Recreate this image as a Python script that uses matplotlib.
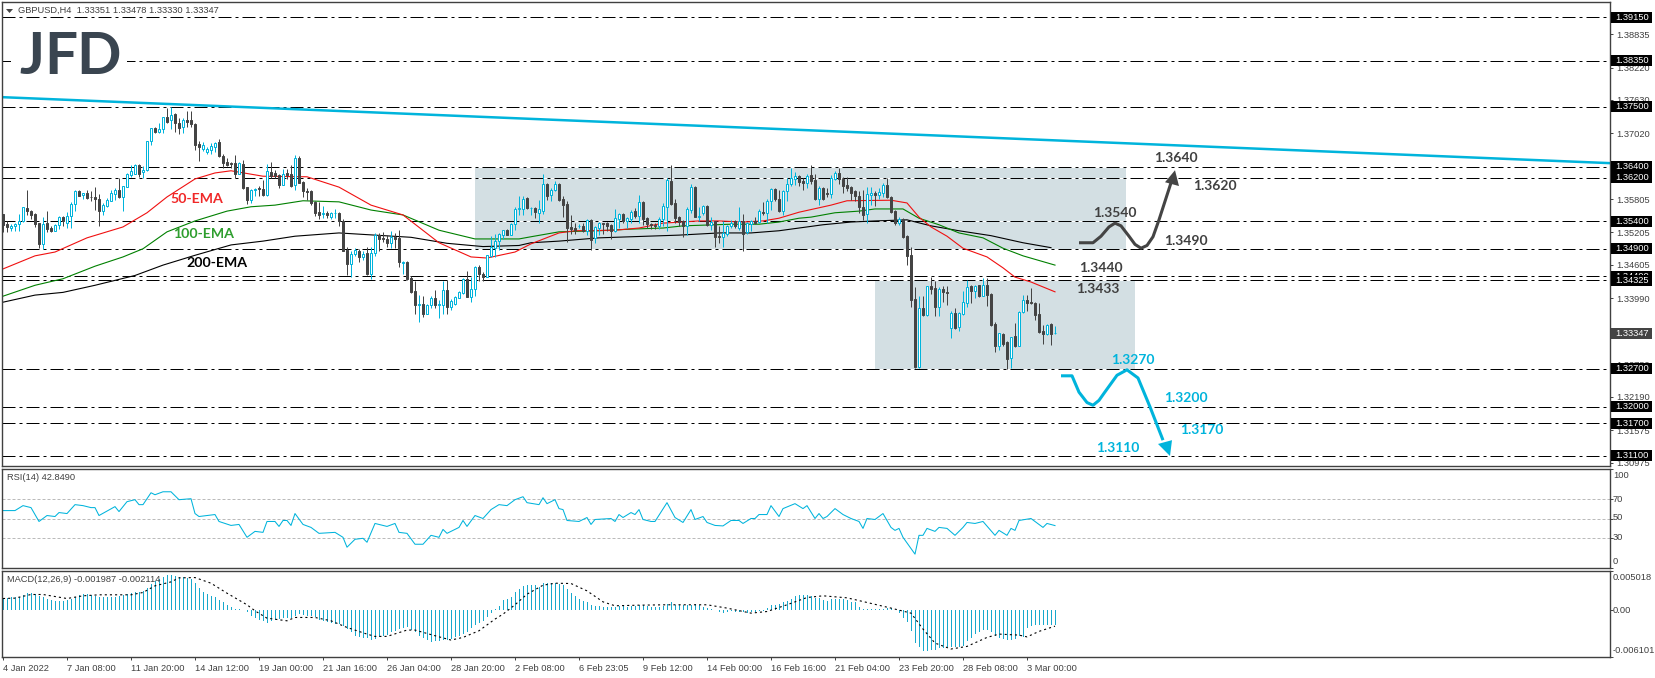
import numpy as np
import matplotlib
matplotlib.use("Agg")
import matplotlib.pyplot as plt
from matplotlib.patches import Rectangle, Polygon

plt.rcParams['font.family'] = ['Liberation Sans', 'DejaVu Sans']
plt.rcParams['lines.scale_dashes'] = False

# ---------- DATA (prices in units of 0.0001) ----------
opens = [13554,13535,13528,13531,13535,13540,13564,13560,13554,13537,
13498,13537,13528,13523,13533,13548,13538,13550,13572,13596,
13588,13592,13585,13584,13582,13560,13569,13578,13591,13598,
13584,13604,13625,13627,13644,13630,13635,13687,13711,13704,
13709,13732,13726,13737,13721,13713,13726,13726,13719,13682,
13673,13667,13671,13676,13685,13661,13649,13647,13647,13627,
13646,13603,13580,13598,13602,13599,13589,
13631,13629,13625,13607,13629,13627,13606,13656,13612,13596,13596,13576,13557,
13553,13555,13549,13555,13556,13541,13488,13462,13480,13486,
13475,13483,13444,13483,13516,13510,13508,13501,13511,13509,
13464,13466,13436,13412,13386,13388,13371,13386,13399,13386,
13387,13414,13384,13389,13400,13408,13434,13402,13417,13457,
13443,13439,13477,13492,13504,13516,13525,13516,13535,13563,
13563,13583,
13564,13564,13556,13560,13609,13588,13597,13609,
13581,13572,13530,13528,13531,13532,13523,13542,13509,13528,
13538,13537,13534,13522,13545,13553,13541,13544,13560,13550,
13575,13546,13536,13534,13531,13545,13567,13614,13574,13548,
13540,13532,13561,13603,13548,13555,13569,13534,13540,13514,
13511,13517,13531,13540,13528,13540,13520,13536,13541,13539,
13557,13556,13578,13599,13581,13560,13595,13608,13618,13624,
13614,13611,13625,13616,13581,13601,13593,13591,13618,13629,
13618,13607,13603,13595,13587,13566,13553,13588,13593,13588,
13593,13607,13585,13559,13537,13545,13514,13478,13397,13274,
13381,13369,13422,13418,13384,13416,13411,13344,13372,13346,
13371,13391,13421,13412,13423,13404,13423,13407,13352,13311,
13334,13319,13289,13330,13312,13374,13396,13392,13391,13370,
13339,13333,13352,13335]

closes = [13534,13529,13532,13536,13541,13566,13559,13552,13536,13498,
13536,13526,13523,13534,13548,13540,13550,13572,13595,13587,
13592,13583,13584,13582,13559,13570,13580,13592,13598,13584,
13605,13627,13633,13644,13627,13635,13687,13711,13705,13710,
13731,13723,13735,13720,13711,13726,13723,13719,13680,13676,
13680,13673,13679,13684,13661,13647,13644,13645,13627,13648,
13602,13580,13598,13600,13599,13589,13632,
13623,13623,13607,13627,13626,13605,13656,13611,13595,13594,13574,13555,13552,
13555,13552,13555,13556,13541,13486,13462,13481,13488,13475,
13481,13444,13483,13516,13508,13507,13501,13511,13508,13466,
13466,13434,13411,13386,13388,13370,13386,13399,13386,13389,
13414,13384,13394,13401,13410,13434,13402,13417,13456,13443,
13439,13478,13494,13504,13517,13524,13516,13535,13562,13564,
13582,13564,
13565,13557,13563,13609,13587,13598,13609,13580,
13571,13528,13527,13525,13532,13523,13542,13506,13529,13537,
13536,13532,13522,13546,13553,13540,13546,13558,13550,13575,
13544,13536,13533,13532,13545,13569,13616,13572,13546,13539,
13532,13563,13603,13549,13550,13569,13534,13539,13511,13512,
13518,13532,13537,13532,13540,13517,13537,13541,13538,13559,
13556,13578,13599,13581,13560,13595,13609,13619,13624,13613,
13610,13624,13614,13581,13601,13581,13590,13619,13629,13618,
13605,13602,13593,13586,13566,13552,13590,13592,13588,13594,
13607,13584,13558,13537,13545,13511,13476,13396,13274,13381,
13369,13421,13416,13384,13416,13410,13408,13372,13344,13372,
13392,13420,13412,13422,13404,13423,13405,13350,13311,13335,
13316,13288,13328,13311,13374,13396,13391,13390,13369,13338,
13333,13350,13334,13335]

highs = [13554,13540,13536,13538,13554,13567,13598,13561,13555,13538,
13548,13559,13532,13536,13550,13550,13558,13575,13597,13598,
13593,13598,13595,13603,13590,13573,13583,13597,13601,13619,
13605,13629,13644,13646,13646,13642,13688,13712,13713,13721,
13732,13748,13750,13739,13729,13729,13742,13742,13720,13687,
13685,13676,13684,13686,13691,13664,13656,13650,13662,13650,
13653,13604,13599,13601,13605,13616,13646,
13649,13634,13627,13636,13636,13643,13662,13660,13615,13601,13598,13578,13576,
13568,13559,13557,13563,13558,13544,13494,13485,13491,13489,
13485,13494,13494,13518,13518,13521,13515,13522,13518,13524,
13467,13468,13440,13431,13406,13403,13389,13403,13414,13396,
13431,13433,13397,13403,13413,13436,13450,13439,13458,13460,
13447,13479,13513,13517,13519,13525,13527,13537,13566,13587,
13587,13584,
13567,13566,13580,13627,13610,13601,13615,13611,
13587,13577,13552,13537,13536,13537,13544,13544,13532,13539,
13538,13539,13536,13563,13555,13556,13549,13561,13564,13589,
13577,13548,13538,13538,13548,13574,13619,13644,13581,13550,
13542,13567,13609,13605,13567,13570,13570,13548,13541,13531,
13540,13534,13542,13542,13566,13554,13539,13543,13549,13563,
13575,13581,13601,13601,13598,13598,13619,13638,13630,13625,
13619,13627,13644,13627,13605,13603,13601,13625,13633,13638,
13621,13622,13605,13598,13595,13597,13603,13604,13595,13601,
13610,13619,13587,13561,13548,13546,13515,13493,13419,13404,
13404,13422,13439,13430,13419,13422,13421,13375,13381,13374,
13412,13432,13423,13424,13424,13436,13436,13408,13355,13336,
13336,13320,13329,13353,13375,13405,13405,13418,13393,13390,
13350,13352,13353,13348]

lows = [13520,13521,13523,13523,13523,13539,13552,13545,13530,13491,
13489,13520,13521,13522,13526,13532,13528,13528,13560,13586,
13582,13581,13577,13561,13531,13552,13567,13577,13580,13583,
13560,13603,13621,13627,13621,13619,13633,13680,13702,13703,
13703,13721,13709,13705,13700,13702,13713,13713,13671,13651,
13670,13664,13664,13668,13659,13638,13641,13638,13619,13627,
13599,13572,13573,13586,13586,13586,13587,
13619,13619,13601,13607,13618,13604,13598,13610,13585,13579,13570,13550,13544,
13546,13546,13544,13546,13532,13485,13442,13439,13477,13466,
13469,13442,13434,13477,13485,13503,13494,13491,13491,13457,
13444,13433,13408,13371,13356,13365,13370,13382,13381,13363,
13370,13371,13378,13387,13399,13407,13401,13393,13404,13430,
13431,13439,13475,13474,13488,13507,13515,13515,13524,13552,
13552,13562,
13552,13546,13537,13554,13580,13577,13595,13577,
13549,13503,13517,13517,13528,13520,13515,13488,13501,13515,
13517,13523,13507,13520,13528,13538,13528,13538,13546,13537,
13534,13528,13526,13526,13526,13532,13522,13570,13538,13531,
13511,13515,13555,13548,13540,13552,13532,13525,13493,13500,
13494,13514,13528,13528,13525,13485,13517,13522,13536,13537,
13552,13538,13561,13578,13558,13552,13577,13605,13607,13605,
13598,13601,13609,13580,13570,13580,13585,13583,13616,13608,
13593,13595,13580,13577,13555,13542,13537,13570,13569,13581,
13585,13583,13556,13534,13534,13509,13460,13384,13271,13271,
13366,13367,13407,13366,13366,13393,13387,13327,13342,13340,
13369,13384,13391,13399,13402,13404,13385,13349,13301,13305,
13312,13270,13271,13309,13311,13373,13375,13389,13359,13336,
13316,13331,13314,13333]

ema50_bar = [0,8,13,21,30,36,41,48,53,57,65,76,84,92,100,109,117,121,128,132,139,143,153,159,165,174,179,185,190,194,199,207,211,222,226,229,232,236,240,246,250,253,257,263]
ema50_val = [13453,13477,13484,13510,13530,13556,13585,13618,13629,13633,13623,13622,13603,13570,13552,13501,13475,13473,13484,13499,13519,13523,13524,13528,13537,13541,13541,13539,13541,13546,13557,13570,13578,13579,13574,13548,13530,13513,13491,13475,13455,13438,13429,13411]

ema100_bar = [0,8,15,23,30,35,41,48,56,62,68,75,84,92,100,109,118,129,132,139,149,157,165,170,182,189,194,199,202,208,214,218,225,229,234,239,245,250,255,263]
ema100_val = [13403,13423,13435,13458,13475,13490,13521,13541,13559,13567,13570,13578,13576,13561,13552,13524,13508,13508,13512,13521,13523,13526,13528,13532,13535,13535,13539,13546,13548,13556,13559,13563,13563,13546,13534,13519,13510,13491,13477,13460]

ema200_bar = [0,8,15,23,33,40,48,57,65,73,84,93,102,111,120,129,132,139,149,157,169,179,187,194,199,205,212,218,226,232,239,247,255,262]
ema200_val = [13392,13405,13410,13423,13441,13460,13478,13497,13504,13513,13519,13515,13511,13500,13494,13496,13501,13504,13510,13512,13515,13519,13519,13523,13528,13534,13539,13541,13543,13532,13523,13514,13501,13492]

level_vals = [13915,13835,13750,13640,13620,13540,13490,13440,13432.5,13270,13200,13170,13110]
level_text = ['1.39150','1.38350','1.37500','1.36400','1.36200','1.35400','1.34900','1.34400','1.34325','1.32700','1.32000','1.31700','1.31100']
axis_ticks = [138835,138220,137630,137020,136405,135805,135205,134605,133990,133375,132780,132190,131575,130975]

trend_bar = [-0.25, 401.75]
trend_val = [13768, 13647]

zone_a = (118.0, 280.75, 13490, 13640)
zone_b = (218.0, 283.0, 13270, 13433)

up_bar = [269,272.5,274.5,276.5,278,279.5,281.5,283,284.5,286,287.5,289,292]
up_val = [13501,13501,13513,13530,13537,13532,13513,13498,13491,13496,13512,13543,13611]
up_head_bar = [293,290.5,294]
up_head_val = [13634,13612,13605]

dn_bar = [264.5,267.25,269,271,272.5,274,275.25,278.5,281,283.75,286.75,290]
dn_val = [13257,13257,13227,13208,13203,13212,13225,13258,13268,13253,13200,13139]
dn_head_bar = [291.75,288.75,292.25]
dn_head_val = [13110,13132,13139]

rsi_bar = [0,3,5,7,9,11,13,14,16,18,20,22,23,24,28,29,31,33,34,35,37,38,40,42,44,47,48,49,53,54,57,59,61,63,65,66,68,69,70,71,72,73,75,77,79,83,85,86,88,90,91,93,96,98,99,101,103,105,107,109,110,111,114,115,116,118,120,122,124,126,128,130,131,134,135,136,138,139,140,141,144,146,147,148,152,153,154,155,157,158,159,160,162,163,166,168,170,172,173,175,176,178,180,182,184,185,187,188,189,191,192,194,195,198,200,201,203,204,205,206,208,210,212,214,215,216,218,220,222,223,224,225,228,229,230,231,233,234,236,238,240,241,243,245,248,249,251,252,253,254,257,260,261,263]
rsi_val = [58,58,63,61,47,53,52,56,55,64,63,61,61,53,62,57,67,69,64,64,76,74,77,77,69,70,55,52,54,47,43,44,31,37,36,47,47,42,48,48,43,55,44,41,35,36,31,21,29,30,26,45,42,45,36,35,24,24,33,31,39,35,41,48,42,53,50,59,64,63,69,72,66,64,71,65,69,60,59,48,47,51,44,49,50,47,54,51,56,54,59,49,47,47,66,51,46,59,49,52,46,43,42.5,48,48,45,50,50,54,54,63,52,60,65,60,63,50,55,50,52,60,54,50,47,40,50,49,55,41,38,40,31,14,33,33,40,37,41,40,33,41,46,45,47,33,38,33,40,38,48,50,41,45,42.85]

macd_hist = [15.1,15.9,16.3,16.3,17.2,18.9,21.1,21.9,20.2,18.1,
16.3,14.6,13.3,12.0,11.6,11.6,12.5,13.8,17.2,18.9,
19.8,19.8,18.9,18.1,17.2,16.3,16.8,17.2,17.2,17.6,
18.9,19.8,21.5,23.2,23.2,23.7,28.0,33.1,37.4,40.4,
43.0,44.7,44.7,43.9,43.0,42.1,41.7,39.6,34.4,28.8,
23.2,20.2,18.1,17.2,12.5,9.5,6.5,3.9,0.9,0.9,
0,-3.4,-7.7,-10.8,-13.3,-14.6,-17.2,-14.2,-12.9,-12.0,
-11.2,-10.3,-10.3,-7.7,-6.0,-6.9,-7.7,-8.6,-9.9,-12.9,
-14.2,-16.3,-17.2,-18.5,-18.9,-20.6,-24.9,-29.2,-33.5,-35.7,
-36.6,-37.0,-38.7,-37.8,-35.7,-33.5,-32.7,-29.2,-27.1,-24.9,
-23.2,-22.8,-25.8,-28.4,-33.5,-36.1,-39.1,-41.3,-40.9,-40.4,
-39.6,-38.7,-37.8,-35.7,-33.5,-31.0,-28.4,-24.1,-19.8,-17.2,
-14.2,-9.9,-4.7,0.9,4.3,12.5,14.6,17.2,22.4,26.7,
31.0,31.8,32.3,31.8,30.1,34.4,34.4,35.3,34.4,33.5,
31.8,27.5,21.5,18.1,13.8,11.2,9.5,6.0,5.2,4.3,
3.9,3.0,3.9,3.9,4.3,4.3,3.9,5.2,5.2,6.5,
6.0,5.2,3.0,3.0,3.0,5.2,7.3,9.5,6.5,6.5,
6.5,6.5,6.5,6.9,6.0,3.9,1.7,0.9,0,-2.6,
-4.3,-3.4,-1.3,-2.6,-3.4,-2.6,-4.3,-3.4,-2.6,-1.3,
-0.9,1.7,6.0,6.5,7.3,9.5,10.8,14.6,18.1,18.9,
18.9,18.9,18.1,15.9,15.1,12.9,11.6,13.8,14.6,14.6,
13.8,12.5,10.3,9.5,3.0,0.9,0.9,0.9,0.9,0.9,
0.9,2.2,2.6,0,-4.3,-10.8,-16.3,-27.1,-43.4,-48.6,
-53.8,-52.9,-51.6,-51.6,-49.9,-49.5,-48.6,-48.6,-48.6,-48.6,
-46.4,-40.0,-36.6,-31.4,-28.4,-25.8,-25.8,-29.2,-33.5,-36.6,
-37.8,-38.7,-39.1,-37.8,-33.5,-35.3,-23.6,-20.6,-19.9,-19.9,
-19.9,-19.9,-19.9,-19.87]

signal_bar = [0,3,7,10,13,16,20,24,28,32,35,38,42,44,48,52,56,61,63,66,71,73,78,82,86,91,93,96,101,103,108,112,115,119,123,125,128,131,135,138,142,146,150,153,159,166,176,181,187,191,196,201,205,211,216,222,227,230,233,237,241,246,249,254,256,259,263]
signal_val = [14.6,15.1,19.8,19.8,17.2,14.6,18.1,19.4,19.4,19.4,22.4,31.0,36.1,41.3,41.7,34.4,21.5,6.5,-1.3,-10.8,-14.2,-9.9,-9.9,-14.2,-22.8,-31.4,-34.4,-34.4,-26.2,-26.2,-33.5,-39.1,-35.7,-27.1,-12.0,-5.6,6.5,20.2,31.8,34.4,34.0,24.5,10.3,5.2,6.0,6.5,6.5,2.2,-4.3,-2.2,6.5,15.9,18.1,15.5,9.5,2.2,-4.3,-24.9,-43,-50.7,-47.3,-35.7,-31.4,-32.7,-35,-27.9,-21.14]

date_labels = ['4 Jan 2022','7 Jan 08:00','11 Jan 20:00','14 Jan 12:00','19 Jan 00:00','21 Jan 16:00','26 Jan 04:00','28 Jan 20:00','2 Feb 08:00','6 Feb 23:05','9 Feb 12:00','14 Feb 00:00','16 Feb 16:00','21 Feb 04:00','23 Feb 20:00','28 Feb 08:00','3 Mar 00:00']
date_bars = [0,16,32,48,64,80,96,112,128,144,160,176,192,208,224,240,256]

# ---------- STYLE ----------
W, H = 1655, 678
BLUE = '#00B4DC'; DARK = '#444444'; ZONE = '#D3DFE3'; FRAME = '#404040'; TXT = '#404040'
PT = 0.72
SMALL = 6.7
BOLD = ['Lato', 'Liberation Sans']

def px(x, y):
    return x / W, 1 - y / H

def pane(left, top, right, bottom):
    return [left / W, 1 - bottom / H, (right - left) / W, (bottom - top) / H]

fig = plt.figure(figsize=(W / 100, H / 100), dpi=100, facecolor='white')
L, R = 2, 1610
ax = fig.add_axes(pane(L, 2, R, 466))
rs = fig.add_axes(pane(L, 469, R, 568))
mc = fig.add_axes(pane(L, 571, R, 657))
for a in (ax, rs, mc):
    a.set_xlim((L - 3) / 4, (R - 3) / 4)
    a.patch.set_facecolor('white')
    for s in a.spines.values():
        s.set_color(FRAME); s.set_linewidth(1.0)
    a.yaxis.tick_right()
    a.tick_params(axis='y', length=2.2, width=0.7, color=FRAME, pad=2.6, labelsize=SMALL, labelcolor=TXT)
    a.set_xticks([])

SCALE = 5453 / 1e4   # pixels per 0.0001
top_price = 13915 + (17 - 2) / SCALE
bot_price = 13915 - (466 - 17) / SCALE
ax.set_ylim(bot_price, top_price)

def price_y(p):
    return 17 + (13915 - p) * SCALE

o, c, h, l = map(np.array, (opens, closes, highs, lows))
x = np.arange(len(o))
up = c >= o

# zones
for x0, x1, y0, y1 in (zone_a, zone_b):
    ax.add_patch(Rectangle((x0, y0), x1 - x0, y1 - y0, fc=ZONE, ec='none', zorder=0.5))

# levels
DD = (0, (13 * PT, 4 * PT, 3 * PT, 4 * PT))
for v in level_vals:
    ax.axhline(v, color='white', lw=PT, zorder=1)
    ax.axhline(v, color='black', lw=PT, ls=DD, zorder=1.1)

# moving averages and trend line
ax.plot(ema200_bar, ema200_val, color='black', lw=0.8, zorder=2)
ax.plot(ema100_bar, ema100_val, color='#008000', lw=0.8, zorder=2.1)
ax.plot(ema50_bar, ema50_val, color='#F01010', lw=0.8, zorder=2.2)
ax.plot(trend_bar, trend_val, color=BLUE, lw=1.8, zorder=2.3, solid_capstyle='butt')

# candles
ax.vlines(x[up], l[up], h[up], color=BLUE, lw=PT, zorder=3)
ax.vlines(x[~up], l[~up], h[~up], color=DARK, lw=PT, zorder=3)
ax.bar(x[up], (c - o)[up], bottom=o[up], width=0.5, fc='white', ec=BLUE, lw=PT, zorder=3.5)
ax.bar(x[~up], (o - c)[~up], bottom=c[~up], width=0.5, fc=DARK, ec=DARK, lw=PT, zorder=3.5)

# scenario arrows
ax.plot(up_bar, up_val, color=DARK, lw=2.2, zorder=4, solid_joinstyle='round', solid_capstyle='butt')
ax.add_patch(Polygon(np.c_[up_head_bar, up_head_val], fc=DARK, ec='none', zorder=4))
ax.plot(dn_bar, dn_val, color=BLUE, lw=2.2, zorder=4, solid_joinstyle='round', solid_capstyle='butt')
ax.add_patch(Polygon(np.c_[dn_head_bar, dn_head_val], fc=BLUE, ec='none', zorder=4))

# price axis
ax.set_yticks([t / 10 for t in axis_ticks])
ax.set_yticklabels([f'{t / 1e5:.5f}' for t in axis_ticks])

def box(y, txt, color, z):
    fig.add_artist(Rectangle(px(1611, y + 5.5), 41 / W, 11 / H, transform=fig.transFigure, fc=color, ec='none', zorder=z))
    fig.text(*px(1615.5, y), txt, color='white', fontsize=SMALL, va='center', ha='left', zorder=z + 0.5)

for i, (v, t) in enumerate(zip(level_vals, level_text)):
    box(price_y(v), t, 'black', 2 + i)
box(price_y(c[-1] + 0.05), '1.33347', DARK, 20)

# logo block
fig.add_artist(Rectangle(px(11, 80), 116 / W, 55 / H, transform=fig.transFigure, fc='white', ec='none', zorder=1))
LOGO = '#3A4550'
for lx, ch in ((19, 'J'), (44, 'F'), (76, 'D')):
    fig.text(*px(lx, 74), ch, fontsize=42, fontweight='bold', family=BOLD, color=LOGO, ha='left', va='baseline', zorder=1.5)

# header
fig.add_artist(Polygon([px(6, 9), px(13, 9), px(9.5, 13)], transform=fig.transFigure, fc=DARK, ec='none', zorder=3))
fig.text(*px(18, 10), 'GBPUSD,H4  1.33351 1.33478 1.33330 1.33347', fontsize=SMALL, color=TXT, va='center', ha='left', zorder=4)

# annotation labels
def lab(xp, yp, t, col, size=10):
    fig.text(*px(xp, yp), t, color=col, fontsize=size, fontweight='bold', family=BOLD, va='center', ha='left', zorder=4)

for xp, yp, t in ((1154, 158, '1.3640'), (1193, 186, '1.3620'), (1093, 213, '1.3540'), (1164, 241, '1.3490'), (1079, 268, '1.3440'), (1076, 289, '1.3433')):
    lab(xp, yp, t, '#404040')
for xp, yp, t in ((1111, 360, '1.3270'), (1164, 398, '1.3200'), (1180, 430, '1.3170'), (1096, 448, '1.3110')):
    lab(xp, yp, t, BLUE)
lab(170, 199, '50-EMA', '#F02828', 10.2)
lab(173, 234, '100-EMA', '#2E9E2E', 10.2)
lab(186, 263, '200-EMA', 'black', 10.2)

# RSI pane
rs.set_ylim(0, 100)
for g in (70, 50, 30):
    rs.axhline(g, color='#BBBBBB', lw=PT, ls=(0, (3 * PT, 2 * PT)), zorder=1)
rs.plot(rsi_bar, rsi_val, color=BLUE, lw=0.75, zorder=2)
rs.set_yticks([100, 70, 50, 30, 0])
rs.set_yticklabels([])
for yy, t in ((476, '100'), (499, '70'), (518, '50'), (538, '30'), (562, '0')):
    fig.text(*px(1613, yy), t, color=TXT, fontsize=SMALL, va='center', ha='left')
fig.text(*px(7, 477), 'RSI(14) 42.8490', color=TXT, fontsize=SMALL, va='center', ha='left', zorder=4)

# MACD pane
mc.set_ylim(-61.01, 50.18)
mc.bar(x, macd_hist, width=0.25, color='#18A8CC', lw=0, zorder=2)
mc.plot(signal_bar, signal_val, color='black', lw=0.8, ls=(0, (1.5, 2.2)), zorder=3)
mc.set_yticks([50.18, 0, -61.01])
mc.set_yticklabels([])
for yy, t in ((577, '0.005018'), (610.7, '0.00'), (650.7, '-0.006101')):
    fig.text(*px(1612.5, yy), t, color=TXT, fontsize=SMALL, va='center', ha='left')
fig.text(*px(7, 579), 'MACD(12,26,9) -0.001987 -0.002114', color=TXT, fontsize=SMALL, va='center', ha='left', zorder=4)

mc.set_xticks(date_bars)
mc.set_xticklabels(date_labels, ha='left', fontsize=SMALL, color=TXT)
mc.tick_params(axis='x', length=2.2, width=0.7, color=FRAME, pad=2.5)

fig.savefig('out.png', dpi=100, facecolor='white')
